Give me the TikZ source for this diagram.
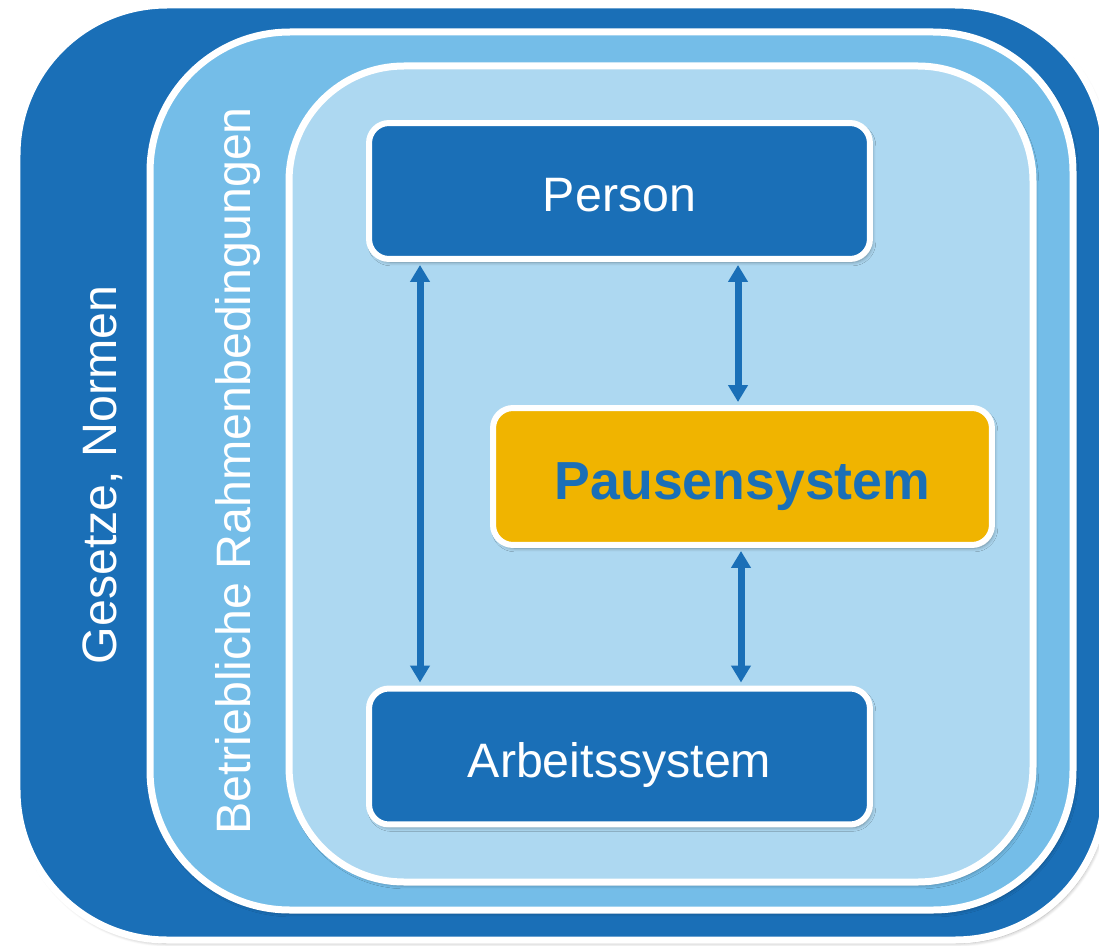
\documentclass[tikz,border=0pt]{standalone}
\usepackage{fontspec}
\setmainfont{Liberation Sans}
\usetikzlibrary{arrows.meta,shadows.blur}
\definecolor{darkblue}{RGB}{26,111,183}
\definecolor{midblue}{RGB}{116,189,232}
\definecolor{paleblue}{RGB}{173,216,241}
\definecolor{gold}{RGB}{240,180,0}

\begin{document}
\begin{tikzpicture}[x=0.02cm, y=-0.02cm,
	soft/.style={blur shadow={shadow blur steps=6, shadow xshift=1.2pt, shadow yshift=-1.8pt, shadow opacity=35}},
	frame/.style={draw=white, line width=0.14cm, soft},
	label/.style={text=white, font=\fontsize{27.5}{31}\selectfont},
	box/.style={draw=white, line width=0.12cm, rounded corners=0.4cm, fill=darkblue, text=white,
		minimum width=10.02cm, minimum height=2.72cm, font=\fontsize{27.5}{31}\selectfont,
		text height=0.83cm, text depth=0pt, soft},
	link/.style={darkblue, line width=0.14cm, {Triangle[length=0.34cm,width=0.38cm]}-{Triangle[length=0.34cm,width=0.38cm]},
		shorten <=0.06cm, shorten >=0.06cm}]
	\useasboundingbox (0,0) rectangle (1099,946);
	% nested frames
	\draw [frame, fill=darkblue, rounded corners=3cm] (17,5) rectangle (1105,940);
	\draw [frame, fill=midblue, rounded corners=2.8cm] (150,32) rectangle (1073,910);
	\draw [frame, fill=paleblue, rounded corners=2.3cm] (289,66) rectangle (1033,882);
	\node [label, rotate=90] (laws) at (103,475) {Gesetze, Normen};
	\node [label, rotate=90] (company) at (238,471) {Betriebliche Rahmenbedingungen};
	% boxes
	\node [box] (person) at (619.5,191) {Person};
	\node [box, fill=gold, text=darkblue, font=\bfseries\fontsize{30.5}{34}\selectfont, text height=0.91cm,
		minimum width=9.98cm, minimum height=2.74cm] (pause) at (742.5,476.5) {Pausensystem};
	\node [box] (work) at (619.5,756.5) {Arbeitssystem};
	% links
	\coordinate (leftx) at (420,0);
	\coordinate (upperx) at (738,0);
	\coordinate (lowerx) at (741,0);
	\draw [link] (person.south -| leftx) -- (work.north -| leftx);
	\draw [link] (person.south -| upperx) -- (pause.north -| upperx);
	\draw [link] (pause.south -| lowerx) -- (work.north -| lowerx);
\end{tikzpicture}
\end{document}
